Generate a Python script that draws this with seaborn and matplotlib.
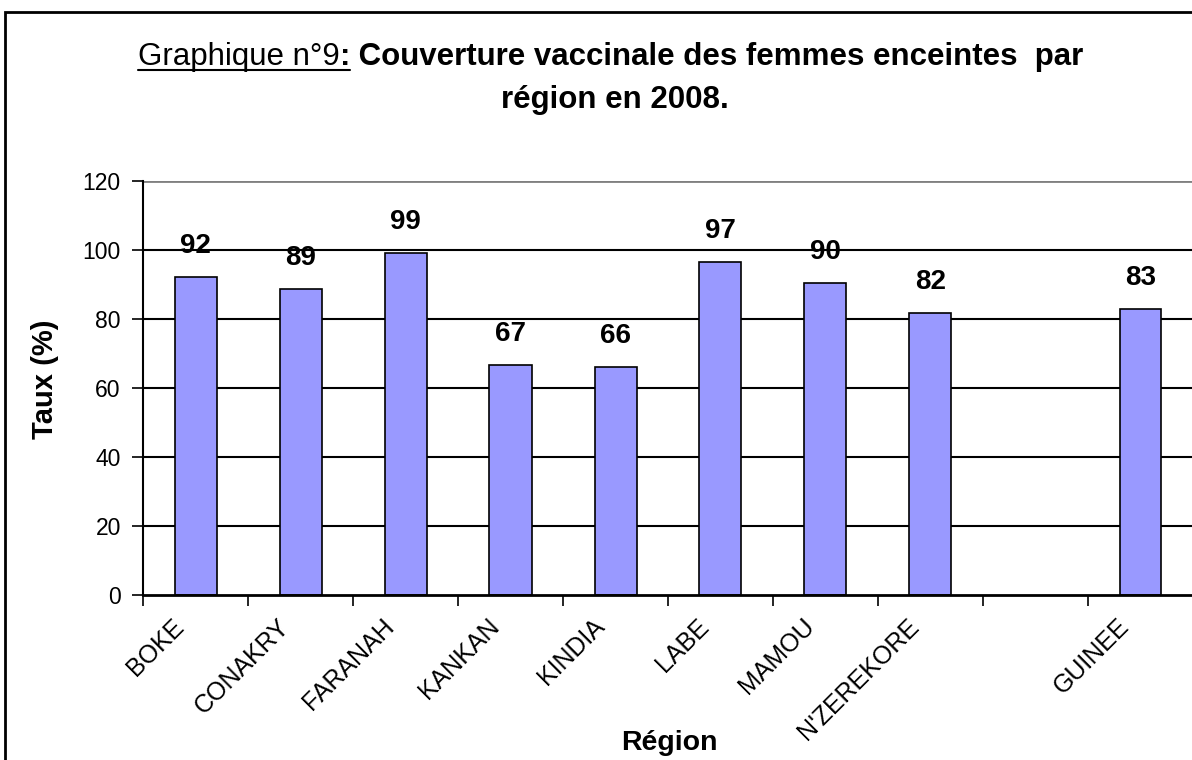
import numpy as np
import pandas as pd
import matplotlib
matplotlib.use("Agg")
import matplotlib.pyplot as plt
import matplotlib.transforms as mtransforms
from matplotlib.patches import Rectangle
from matplotlib.lines import Line2D
import seaborn as sns

regions = ["BOKE", "CONAKRY", "FARANAH", "KANKAN", "KINDIA", "LABE", "MAMOU", "N'ZEREKORE", " ", "GUINEE"]
taux = [92.2, 88.7, 99.0, 66.6, 66.1, 96.6, 90.4, 81.8, np.nan, 83.0]
yticks = [0, 20, 40, 60, 80, 100, 120]

df = pd.DataFrame({"region": regions, "taux": taux})

sns.set_style("white")
plt.rcParams["font.family"] = ["Liberation Sans", "DejaVu Sans"]
plt.rcParams["text.color"] = "black"
plt.rcParams["axes.labelcolor"] = "black"
plt.rcParams["xtick.color"] = "black"
plt.rcParams["ytick.color"] = "black"

fig = plt.figure(figsize=(11.92, 7.6), dpi=100)
ax = fig.add_axes([143 / 1192, 1 - 595 / 760, 1050 / 1192, 414 / 760])

# horizontal grid (black), top line grey like the plot border
for v in yticks[1:-1]:
    ax.axhline(v, color="black", lw=1.5, zorder=0)
ax.axhline(120, color="#808080", lw=2, zorder=0)

sns.barplot(data=df, x="region", y="taux", order=regions, color="#9999FF",
            edgecolor="black", linewidth=1.2, width=0.4, saturation=1, ax=ax, zorder=2)

for i, v in enumerate(taux):
    if not np.isnan(v):
        ax.annotate(f"{v:.0f}", (i, v), xytext=(0, 13), textcoords="offset points",
                    ha="center", va="bottom", fontsize=20, fontweight="bold")

ax.set_xlim(-0.5, len(regions) - 0.5)
ax.set_ylim(0, 120)
ax.set_yticks(yticks)
ax.tick_params(axis="y", labelsize=16.5, length=8, width=1.2, direction="out", left=True, pad=8)

ax.set_xticks(range(len(regions)))
ax.set_xticklabels(regions, rotation=45, ha="right", va="center", rotation_mode="anchor", fontsize=18)
ax.tick_params(axis="x", length=0, pad=20)
shift = mtransforms.ScaledTranslation(-15 / 100, 0, fig.dpi_scale_trans)
for lab in ax.get_xticklabels():
    lab.set_transform(lab.get_transform() + shift)
ax.set_xticks(np.arange(-0.5, len(regions), 1), minor=True)
ax.tick_params(axis="x", which="minor", length=8, width=1.2, direction="out", bottom=True)

for s in ["top", "right"]:
    ax.spines[s].set_visible(False)
ax.spines["left"].set_color("black")
ax.spines["left"].set_linewidth(1.5)
ax.spines["bottom"].set_color("black")
ax.spines["bottom"].set_linewidth(2)
ax.spines["bottom"].set_zorder(3)

ax.set_ylabel("Taux (%)", fontsize=21, fontweight="bold")
ax.yaxis.set_label_coords(-(143 - 59) / 1050, (595 - 379) / 414)
ax.set_xlabel("Région", fontsize=20.5, fontweight="bold")
ax.xaxis.set_label_coords((669 - 143) / 1050, -(730 - 595) / 414)

# outer frame
fig.patches.append(Rectangle((5 / 1192, -0.1), 1.2, 1 - 12 / 760 + 0.1, transform=fig.transFigure,
                             fill=False, edgecolor="black", lw=2))

# title: mixed regular/underlined + bold on first line
tsize = 22.5
parts = [("Graphique n°9", "normal", True), (":", "bold", True),
         (" Couverture vaccinale des femmes enceintes  par", "bold", False)]
y1 = 1 - 65 / 760
texts = [fig.text(0, y1, s, fontsize=tsize, fontweight=w, ha="left", va="baseline") for s, w, u in parts]
fig.canvas.draw()
r = fig.canvas.get_renderer()
widths = [t.get_window_extent(r).width for t in texts]
x = 611 - sum(widths) / 2
under_start, under_end = x, x
for t, wd, (s, w, u) in zip(texts, widths, parts):
    t.set_x(x / 1192)
    if u:
        under_end = x + wd
    x += wd
fig.lines.append(Line2D([under_start / 1192, under_end / 1192], [1 - 70 / 760] * 2,
                        transform=fig.transFigure, color="black", lw=1.5))
fig.text(615 / 1192, 1 - 108 / 760, "région en 2008.", fontsize=tsize, fontweight="bold",
         ha="center", va="baseline")

fig.savefig("out.png", dpi=100)
